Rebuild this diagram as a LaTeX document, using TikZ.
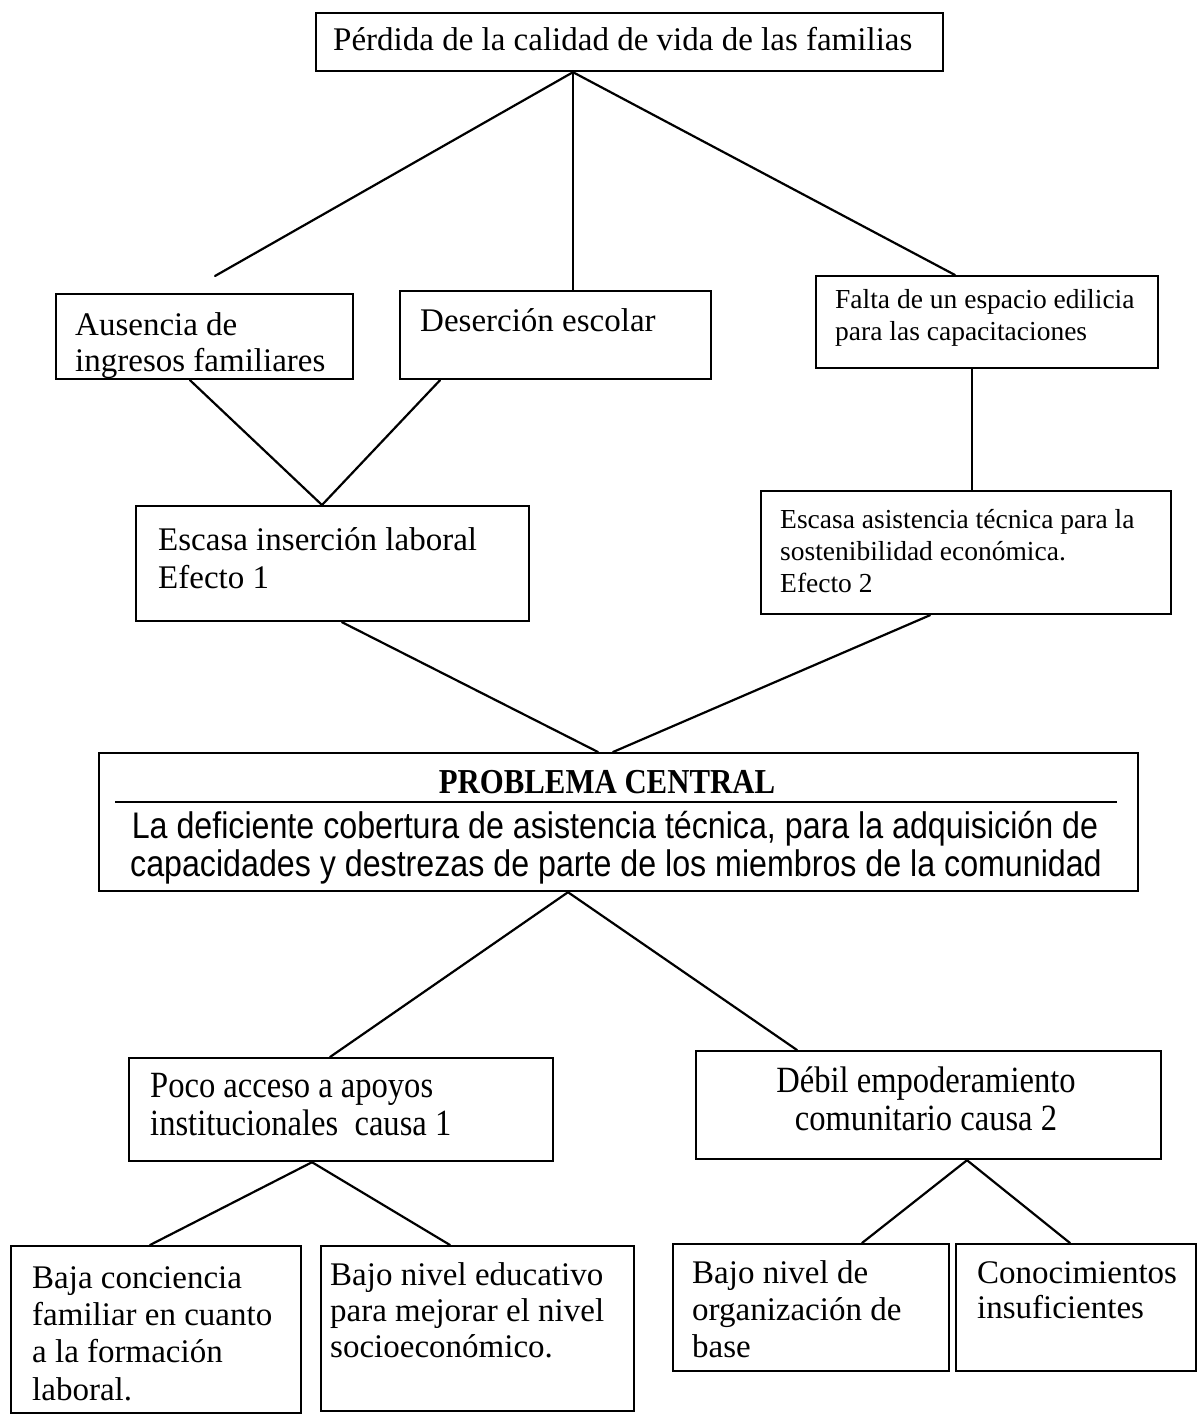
\documentclass[tikz,border=0pt]{standalone}
\usepackage{fontspec}
\setmainfont{Liberation Serif}
\newfontfamily\arialn[FakeStretch=0.87]{Liberation Sans}
\newfontfamily\timesn[FakeStretch=0.88]{Liberation Serif}
\usetikzlibrary{calc}
\newcommand\mkbox[5]{\node[bx,anchor=north west,minimum width={(#4-#2)*1pt},minimum height={(#5-#3)*1pt}] (#1) at (#2,#3) {};}
\begin{document}
\begin{tikzpicture}[x=1pt,y=-1pt,
  bx/.style={draw,line width=2.2pt,inner sep=0pt,rectangle},
  ln/.style={line width=2.2pt,line cap=round},
  tx/.style={anchor=base west,inner sep=0pt,font=\fontsize{33}{37}\selectfont},
  txs/.style={anchor=base west,inner sep=0pt,font=\fontsize{27.5}{32}\selectfont},
  txn/.style={anchor=base west,inner sep=0pt,font=\timesn\fontsize{37}{38}\selectfont},
  txc/.style={anchor=base,inner sep=0pt,font=\timesn\fontsize{37}{38}\selectfont},
  sans/.style={anchor=base,inner sep=0pt,font=\arialn\fontsize{37}{34}\selectfont}]
\useasboundingbox[fill=white] (0,0) rectangle (1202,1414);

% boxes
\mkbox{top}{315}{12}{942}{70}
\mkbox{aus}{55}{293}{352}{378}
\mkbox{des}{399}{290}{710}{378}
\mkbox{fal}{815}{275}{1157}{367}
\mkbox{esc1}{135}{505}{528}{620}
\mkbox{esc2}{760}{490}{1170}{613}
\mkbox{prob}{98}{752}{1137}{890}
\mkbox{poco}{128}{1057}{552}{1160}
\mkbox{deb}{695}{1050}{1160}{1158}
\mkbox{baja}{10}{1245}{300}{1412}
\mkbox{bajo}{320}{1245}{633}{1410}
\mkbox{org}{672}{1243}{948}{1370}
\mkbox{con}{955}{1243}{1195}{1370}

% texts
\node[tx] (t0) at (333,50) {Pérdida de la calidad de vida de las familias};
\node[tx] (t1a) at (75,335) {Ausencia de};
\node[tx] (t1b) at (75,371) {ingresos familiares};
\node[tx] (t2) at (420,331) {Deserción escolar};
\node[txs] (t3a) at (835,308) {Falta de un espacio edilicia};
\node[txs] (t3b) at (835,340) {para las capacitaciones};
\node[tx] (t4a) at (158,550) {Escasa inserción laboral};
\node[tx] (t4b) at (158,588) {Efecto 1};
\node[txs] (t5a) at (780,528) {Escasa asistencia técnica para la};
\node[txs] (t5b) at (780,560) {sostenibilidad económica.};
\node[txs] (t5c) at (780,592) {Efecto 2};
\node[anchor=base,inner sep=0pt,font=\timesn\bfseries\fontsize{35}{38}\selectfont] (t6) at (607,793) {PROBLEMA CENTRAL};
\coordinate (r1) at (115,802);
\coordinate (r2) at (1117,802);
\draw[line width=1.6pt] (r1) -- (r2);
\node[sans] (t6a) at (615,838) {La deficiente cobertura de asistencia técnica, para la adquisición de};
\node[sans] (t6b) at (616,876) {capacidades y destrezas de parte de los miembros de la comunidad};
\node[txn] (t7a) at (150,1097) {Poco acceso a apoyos};
\node[txn] (t7b) at (150,1135) {institucionales\ \ causa 1};
\node[txc] (t8a) at (926,1092) {Débil empoderamiento};
\node[txc] (t8b) at (926,1130) {comunitario causa 2};
\node[tx] (t9a) at (32,1288) {Baja conciencia};
\node[tx] (t9b) at (32,1325) {familiar en cuanto};
\node[tx] (t9c) at (32,1362) {a la formación};
\node[tx] (t9d) at (32,1400) {laboral.};
\node[tx] (t10a) at (330,1285) {Bajo nivel educativo};
\node[tx] (t10b) at (330,1321) {para mejorar el nivel};
\node[tx] (t10c) at (330,1357) {socioeconómico.};
\node[tx] (t11a) at (692,1283) {Bajo nivel de};
\node[tx] (t11b) at (692,1320) {organización de};
\node[tx] (t11c) at (692,1357) {base};
\node[tx] (t12a) at (977,1283) {Conocimientos};
\node[tx] (t12b) at (977,1318) {insuficientes};

% connectors
\coordinate (free) at (215,276);
\draw[ln] (top.south -| 573,0) -- (free);
\draw[ln] (top.south -| 573,0) -- (des.north -| 573,0);
\draw[ln] (top.south -| 573,0) -- (fal.north -| 955,0);
\draw[ln] (aus.south -| 190,0) -- (esc1.north -| 322,0);
\draw[ln] (des.south -| 440,0) -- (esc1.north -| 322,0);
\draw[ln] (fal.south -| 972,0) -- (esc2.north -| 972,0);
\draw[ln] (esc1.south -| 342,0) -- (prob.north -| 598,0);
\draw[ln] (esc2.south -| 930,0) -- (prob.north -| 613,0);
\draw[ln] (prob.south -| 568,0) -- (poco.north -| 330,0);
\draw[ln] (prob.south -| 568,0) -- (deb.north -| 797,0);
\draw[ln] (poco.south -| 312,0) -- (baja.north -| 150,0);
\draw[ln] (poco.south -| 312,0) -- (bajo.north -| 450,0);
\draw[ln] (deb.south -| 967,0) -- (org.north -| 862,0);
\draw[ln] (deb.south -| 967,0) -- (con.north -| 1070,0);
\end{tikzpicture}
\end{document}
